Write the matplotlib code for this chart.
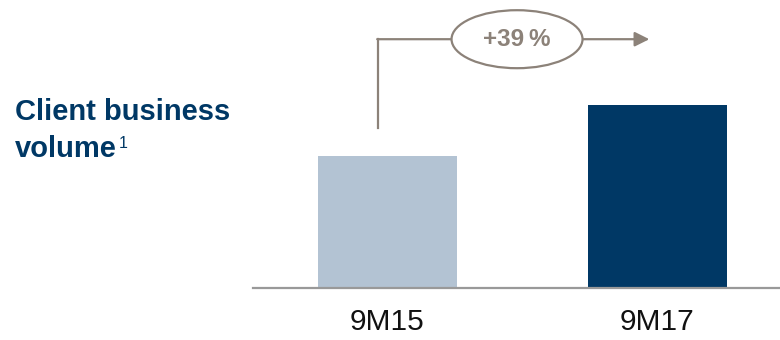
import matplotlib.pyplot as plt
from matplotlib.patches import Ellipse

# data
periods = ['9M15', '9M17']
volume = [100, 139]          # indexed, 9M15 = 100
growth_label = '+39\u2009%'
bar_colors = ['#b3c3d3', '#003865']
navy = '#003865'
arrow_gray = '#8c8279'

plt.rcParams['font.family'] = ['Liberation Sans', 'DejaVu Sans']

fig = plt.figure(figsize=(7.8, 3.4), dpi=100)
ax = fig.add_axes([253 / 780, 52 / 340, 527 / 780, 288 / 340])

x = [0, 1]
ax.bar(x, volume, width=0.515, color=bar_colors, zorder=2)
ax.set_xlim(-0.498, 1.454)
ax.set_ylim(0, 218.2)

for s in ['top', 'right', 'left']:
    ax.spines[s].set_visible(False)
ax.spines['bottom'].set_color('#999999')
ax.spines['bottom'].set_linewidth(1.6)
ax.set_yticks([])
ax.set_xticks(x)
ax.set_xticklabels(periods, fontsize=21.5, color='#111111')
ax.tick_params(axis='x', length=0, pad=14.5)

# growth arrow
y_top = 188.5
ax.plot([-0.035, -0.035], [121, y_top], color=arrow_gray, lw=1.6, clip_on=False)
ax.annotate('', xy=(0.97, y_top), xytext=(-0.035 - 0.003, y_top),
            arrowprops=dict(arrowstyle='-|>', color=arrow_gray, lw=1.6,
                            mutation_scale=22, shrinkA=0, shrinkB=0),
            annotation_clip=False)
ell = Ellipse((0.48, y_top), width=131 / 270, height=58 / 132 * 100,
              facecolor='white', edgecolor=arrow_gray, lw=1.6, zorder=3,
              clip_on=False)
ax.add_patch(ell)
ax.text(0.48, y_top, growth_label, ha='center', va='center', fontsize=17.5,
        fontweight='bold', color=arrow_gray, zorder=4)

# title
fig.text(15 / 780, 1 - 120 / 340, 'Client business', fontsize=21,
         fontweight='bold', color=navy, va='baseline')
t2 = fig.text(15 / 780, 1 - 157 / 340, 'volume', fontsize=21,
              fontweight='bold', color=navy, va='baseline')
fig.canvas.draw()
bb = t2.get_window_extent()
fig.text((bb.x1 + 2) / 780, 1 - 148 / 340, '1', fontsize=11.5,
         color=navy, va='baseline')

fig.savefig('out.png', dpi=100)
